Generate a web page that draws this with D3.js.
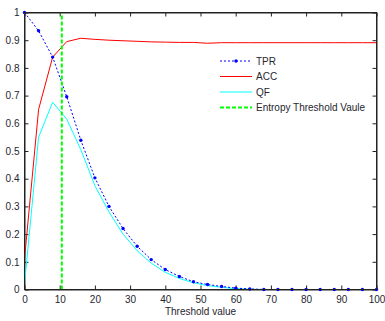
<!DOCTYPE html>
<html><head><meta charset="utf-8">
<script src="https://cdn.jsdelivr.net/npm/d3@7"></script>
<style>body{margin:0;background:#fff}svg{display:block}text{font-family:"Liberation Sans",Arial,sans-serif;font-size:10px;fill:#262630}</style>
</head><body><svg id="c" width="385" height="321"></svg>
<script>
const thresholds = [0,4,8,12,16,20,24,28,32,36,40,44,48,52,56,60,64,68,72,76,80,84,88,92,96,100];
const tpr = [1,0.934,0.839,0.696,0.539,0.403,0.30,0.22,0.156,0.108,0.072,0.047,0.028,0.018,0.011,0.005,0.002,0,0,0,0,0,0,0,0,0];
const acc = [0.11,0.65,0.839,0.895,0.907,0.903,0.9,0.898,0.896,0.894,0.893,0.892,0.892,0.889,0.891,0.891,0.891,0.891,0.891,0.891,0.891,0.891,0.891,0.891,0.891,0.891];
const qf = [0.02,0.55,0.676,0.615,0.505,0.375,0.28,0.2,0.14,0.095,0.062,0.04,0.024,0.014,0.008,0.003,0.001,0,0,0,0,0,0,0,0,0];
const entropyThreshold = 10.6;
const xTicks = [0,10,20,30,40,50,60,70,80,90,100];
const yTicks = [0,0.1,0.2,0.3,0.4,0.5,0.6,0.7,0.8,0.9,1];
const legendLabels = ["TPR","ACC","QF","Entropy Threshold Vaule"];

const svg = d3.select("#c");
const L=24.5,R=376.5,T=12.5,B=289.5;
const x = d3.scaleLinear().domain([0,100]).range([L,R]);
const y = d3.scaleLinear().domain([0,1]).range([B,T]);

// axes (inward ticks, box)
const ax = svg.append("g");
ax.append("g").attr("transform",`translate(0,${B})`).call(d3.axisBottom(x).tickValues(xTicks).tickSizeInner(-4).tickSizeOuter(0).tickPadding(6).tickFormat(d3.format("d")));
ax.append("g").attr("transform",`translate(${L},0)`).call(d3.axisLeft(y).tickValues(yTicks).tickSizeInner(-4).tickSizeOuter(0).tickPadding(5).tickFormat(d=>d3.format("~g")(d)));
ax.append("g").attr("transform",`translate(0,${T})`).call(d3.axisTop(x).tickValues(xTicks).tickSizeInner(-4).tickSizeOuter(0).tickFormat(""));
ax.append("g").attr("transform",`translate(${R},0)`).call(d3.axisRight(y).tickValues(yTicks).tickSizeInner(-4).tickSizeOuter(0).tickFormat(""));
ax.selectAll(".domain").attr("stroke","#222");
ax.selectAll(".tick line").attr("stroke","#222");
ax.selectAll("text").attr("font-family","Liberation Sans, Arial, sans-serif").attr("font-size",10).attr("fill","#262630");

const line = d3.line().x((d,i)=>x(thresholds[i])).y(d=>y(d));
const plot = svg.append("g");
plot.append("path").datum(qf).attr("d",line).attr("fill","none").attr("stroke","#00ffff").attr("stroke-width",1);
plot.append("path").datum(acc).attr("d",line).attr("fill","none").attr("stroke","#ff0000").attr("stroke-width",1);
plot.append("path").datum(tpr).attr("d",line).attr("fill","none").attr("stroke","#0000ff").attr("stroke-width",1).attr("stroke-dasharray","2,2");
plot.selectAll("circle.m").data(tpr).enter().append("circle").attr("class","m")
  .attr("cx",(d,i)=>x(thresholds[i])).attr("cy",d=>y(d)).attr("r",1.7).attr("fill","#0000ff");
plot.append("line").attr("x1",x(entropyThreshold)).attr("x2",x(entropyThreshold)).attr("y1",y(0)).attr("y2",y(1))
  .attr("stroke","#00ff00").attr("stroke-width",2).attr("stroke-dasharray","4,2");

// redraw box on top
svg.append("rect").attr("x",L).attr("y",T).attr("width",R-L).attr("height",B-T).attr("fill","none").attr("stroke","#222").attr("stroke-width",1);

// x label
svg.append("text").attr("x",(L+R)/2).attr("y",315).attr("text-anchor","middle").text("Threshold value");

// legend
const styles = [
  {c:"#0000ff",dash:"2,2",w:1,m:true},
  {c:"#ff0000",dash:null,w:1},
  {c:"#00ffff",dash:null,w:1},
  {c:"#00ff00",dash:"4,2",w:2}
];
const lg = svg.append("g");
legendLabels.forEach((lab,i)=>{
  const yy = 61 + i*15.5;
  const s = styles[i];
  const ln = lg.append("line").attr("x1",220).attr("x2",252).attr("y1",yy).attr("y2",yy).attr("stroke",s.c).attr("stroke-width",s.w);
  if(s.dash) ln.attr("stroke-dasharray",s.dash);
  if(s.m) lg.append("circle").attr("cx",236).attr("cy",yy).attr("r",1.7).attr("fill",s.c);
  lg.append("text").attr("x",256).attr("y",yy+3.5).text(lab);
});
</script></body></html>
